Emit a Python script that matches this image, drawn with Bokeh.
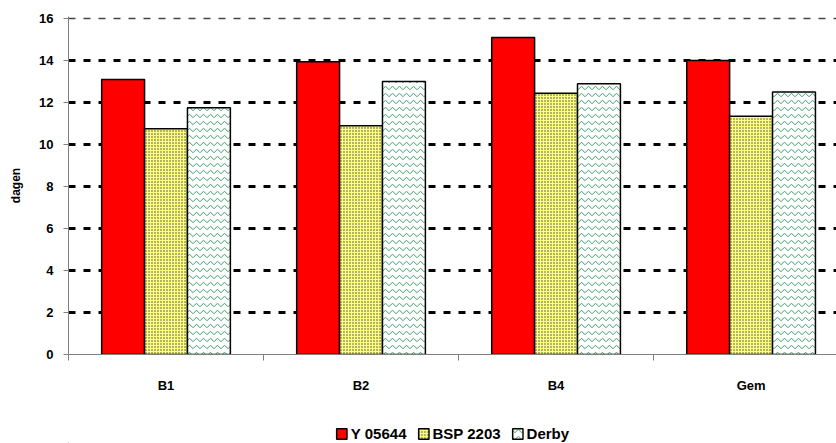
from bokeh.plotting import figure
from bokeh.layouts import column
from bokeh.models import FixedTicker, Legend, LegendItem, ColumnDataSource, Grid
from bokeh.embed import file_html
from bokeh.resources import INLINE

categories = ["B1", "B2", "B4", "Gem"]
y05644 = [13.1, 13.95, 15.1, 14.0]
bsp2203 = [10.75, 10.9, 12.45, 11.35]
derby = [11.75, 13.0, 12.9, 12.5]
series_names = ["Y 05644", "BSP 2203", "Derby"]
y_ticks = [0, 2, 4, 6, 8, 10, 12, 14, 16]

FONT = "Liberation Sans"

centers = [i + 0.5 for i in range(len(categories))]
bar_w = 0.22
offsets = [-0.22, 0.0, 0.22]

p = figure(width=836, height=395, x_range=(0, 3.938), y_range=(0, 16.1),
           output_backend="svg", toolbar_location=None,
           min_border_left=68, min_border_right=0, min_border_top=16,
           min_border_bottom=39)
p.outline_line_color = None
p.background_fill_color = "white"

styles = [
    dict(fill_color="#FF0000"),
    dict(fill_color="#FFFF80", hatch_pattern="dot", hatch_color="#404040",
         hatch_scale=3, hatch_weight=1.2),
    dict(fill_color="white", hatch_pattern="horizontal_wave", hatch_color="#3c9f6a",
         hatch_scale=7, hatch_weight=1),
]

# legend strip (separate figure) with matching glyph styles
lg = figure(width=836, height=48, output_backend="svg", toolbar_location=None,
            min_border_left=68, min_border_right=0, min_border_top=0,
            min_border_bottom=0, x_range=(0, 1), y_range=(0, 1))
lg.axis.visible = False
lg.grid.visible = False
lg.outline_line_color = None

items = []
for vals, name, off, st in zip([y05644, bsp2203, derby], series_names, offsets, styles):
    src = ColumnDataSource(dict(x=[c + off for c in centers], top=vals))
    p.vbar(x="x", top="top", bottom=0, width=bar_w, source=src,
           line_color="black", line_width=1.5, **st)
    # off-screen swatch source so the legend has a glyph to draw
    dummy = lg.vbar(x=[-10], top=[-10], bottom=-10, width=0.1,
                    line_color="black", line_width=1.5, **st)
    items.append(LegendItem(label=name, renderers=[dummy]))

# y axis
p.yaxis.ticker = FixedTicker(ticks=y_ticks)
p.yaxis.axis_label = "dagen"
p.yaxis.axis_label_text_font = FONT
p.yaxis.axis_label_text_font_style = "bold"
p.yaxis.axis_label_text_font_size = "12px"
p.yaxis.axis_label_text_color = "black"
p.yaxis.axis_label_standoff = 13
p.yaxis.major_label_text_font = FONT
p.yaxis.major_label_text_font_style = "bold"
p.yaxis.major_label_text_font_size = "13px"
p.yaxis.major_label_text_color = "black"
p.yaxis.major_label_standoff = 10
p.yaxis.major_tick_out = 5
p.yaxis.major_tick_in = 0
p.yaxis.minor_tick_line_color = None
p.yaxis.axis_line_color = "#808080"
p.yaxis.major_tick_line_color = "#808080"

# x axis
p.xaxis.ticker = FixedTicker(ticks=centers, minor_ticks=[0, 1, 2, 3])
p.xaxis.major_label_overrides = {c: lab for c, lab in zip(centers, categories)}
p.xaxis.major_label_text_font = FONT
p.xaxis.major_label_text_font_style = "bold"
p.xaxis.major_label_text_font_size = "13px"
p.xaxis.major_label_text_color = "black"
p.xaxis.major_tick_line_color = None
p.xaxis.major_tick_out = 0
p.xaxis.major_tick_in = 0
p.xaxis.major_label_standoff = 17
p.xaxis.minor_tick_out = 6
p.xaxis.minor_tick_in = 0
p.xaxis.minor_tick_line_color = "#808080"
p.xaxis.axis_line_color = "#808080"

# grid
p.xgrid.grid_line_color = None
p.ygrid.ticker = FixedTicker(ticks=[t for t in y_ticks if 0 < t < 16])
p.ygrid.grid_line_color = "black"
p.ygrid.grid_line_width = 3
p.ygrid.grid_line_dash = "7 8"
p.add_layout(Grid(dimension=1, ticker=FixedTicker(ticks=[16]),
                  grid_line_color="#444444", grid_line_width=1.5,
                  grid_line_dash="7 8"))

legend = Legend(items=items, orientation="horizontal", location="bottom_center",
                glyph_width=13, glyph_height=13, label_standoff=3, spacing=10,
                padding=0, margin=1, border_line_color=None,
                background_fill_alpha=0,
                label_text_font=FONT, label_text_font_style="bold",
                label_text_font_size="15px", label_text_color="black")
lg.add_layout(legend, "center")

layout = column(p, lg, spacing=0)
open("out.html", "w").write(file_html(layout, INLINE))
